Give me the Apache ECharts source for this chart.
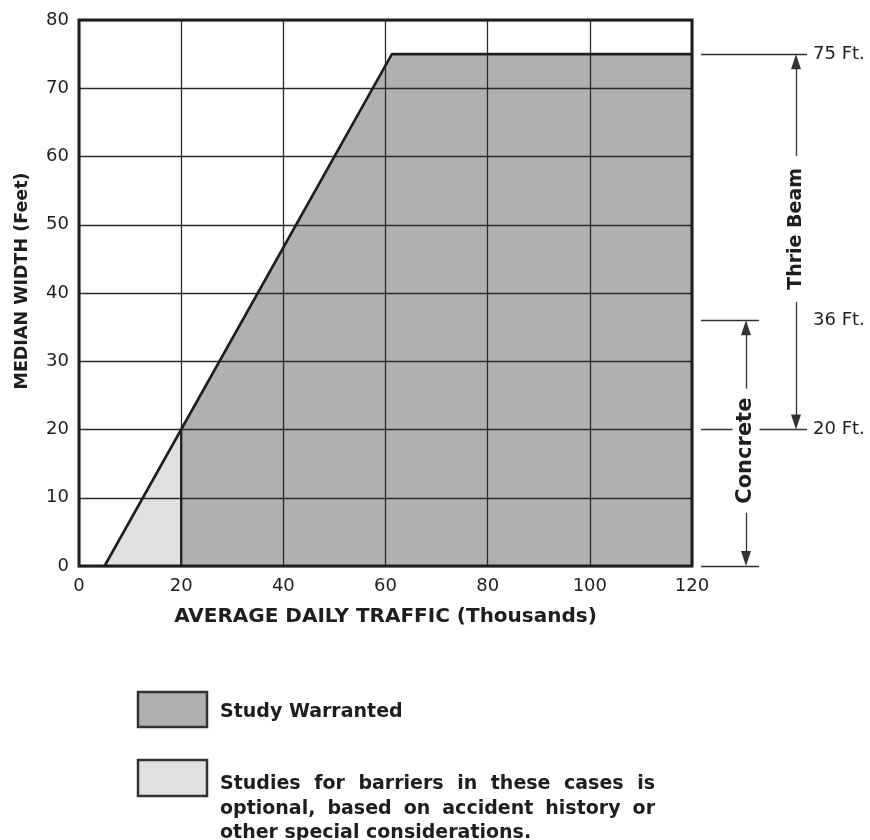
<!DOCTYPE html>
<html><head><meta charset="utf-8">
<script src="https://cdn.jsdelivr.net/npm/echarts@6/dist/echarts.min.js"></script>
<style>html,body{margin:0;padding:0;background:#fff}#c{width:870px;height:840px}</style>
</head><body><div id="c"></div>
<script>
// ---------- data ----------
const boundaryX = [5, 20, 61.25, 120];      // warrant boundary (ADT, thousands)
const boundaryY = [0, 20, 75, 75];          // median width (feet)
const studyEdgeX = [20, 20];
const studyEdgeY = [0, 20];
const xTicks = [0, 20, 40, 60, 80, 100, 120];
const yTicks = [0, 10, 20, 30, 40, 50, 60, 70, 80];
const thresholdValues = [75, 36, 20, 0];
const thresholdLabels = ['75 Ft.', '36 Ft.', '20 Ft.', ''];
const barrierNames = ['Thrie Beam', 'Concrete'];
const barrierLow = [20, 0];
const barrierHigh = [75, 36];
const xAxisTitle = 'AVERAGE DAILY TRAFFIC (Thousands)';
const yAxisTitle = 'MEDIAN WIDTH (Feet)';
const legendNames = ['Study Warranted', 'Studies for barriers in these cases is optional, based on accident history or other special considerations.'];
const legendLines2 = ['Studies for barriers in these cases is', 'optional, based on accident history or', 'other special considerations.'];

// ---------- style / layout ----------
const FONT = 'DejaVu Sans';
const DARK = '#b0b0b0';
const LIGHT = '#e0e0e0';
const INK = '#1e1e1e';
const G = {left: 79, top: 20, width: 613, height: 546};
const ANN = {lineStart: 9, longEnd: 115, shortEnd: 67, thrieX: 104, concreteX: 54, labelX: 121};
const thresholdEnds = [ANN.longEnd, ANN.shortEnd, ANN.longEnd, ANN.shortEnd];
const barrierX = [ANN.thrieX, ANN.concreteX];
const barrierTextCenter = [49.4, 16.9];   // label placement along arrow (axis units)
const barrierGapHalfPx = [73, 62];        // half-length of the gap left for the label
const barrierFontSize = [19, 21];
const ARROW = [10, 15];
const ppu = G.height / (yTicks[yTicks.length - 1] - yTicks[0]);
const arrowInset = (ARROW[1] / 2) / ppu;

const chart = echarts.init(document.getElementById('c'), null, {renderer: 'canvas'});

const pts = (xs, ys) => xs.map((x, i) => [x, ys[i]]);
const boundary = pts(boundaryX, boundaryY);

// legend (boxes + justified text)
const mctx = document.createElement('canvas').getContext('2d');
const legendFont = 'bold 19px "' + FONT + '"';
mctx.font = legendFont;
const justifyWidth = 435;
const legendGraphics = [];
const LX = 220;
function addLine(line, y, justify) {
  if (!justify) {
    legendGraphics.push({type: 'text', x: LX, y: y, style: {text: line, font: legendFont, fill: INK}});
    return;
  }
  const words = line.split(' ');
  const wsum = words.reduce((s, w) => s + mctx.measureText(w).width, 0);
  const gap = (justifyWidth - wsum) / (words.length - 1);
  let x = LX;
  words.forEach(w => {
    legendGraphics.push({type: 'text', x: x, y: y, style: {text: w, font: legendFont, fill: INK}});
    x += mctx.measureText(w).width + gap;
  });
}
legendGraphics.push({type: 'rect', shape: {x: 138, y: 692, width: 69, height: 35}, style: {fill: DARK, stroke: '#333', lineWidth: 2.5}});
addLine(legendNames[0], 703, false);
legendGraphics.push({type: 'rect', shape: {x: 138, y: 760, width: 69, height: 36}, style: {fill: LIGHT, stroke: '#333', lineWidth: 2.5}});
addLine(legendLines2[0], 775, true);
addLine(legendLines2[1], 799.5, true);
addLine(legendLines2[2], 824, false);

// arrow segments (split around the label)
const arrowSegs = [];
barrierNames.forEach((n, i) => {
  const gapLo = barrierTextCenter[i] - barrierGapHalfPx[i] / ppu;
  const gapHi = barrierTextCenter[i] + barrierGapHalfPx[i] / ppu;
  arrowSegs.push([{coord: [barrierX[i], barrierLow[i] + arrowInset], symbol: 'triangle'},
                  {coord: [barrierX[i], gapLo], symbol: 'none'}]);
  arrowSegs.push([{coord: [barrierX[i], gapHi], symbol: 'none'},
                  {coord: [barrierX[i], barrierHigh[i] - arrowInset], symbol: 'triangle'}]);
});

const option = {
  animation: false,
  backgroundColor: '#fff',
  grid: [
    {left: G.left, top: G.top, width: G.width, height: G.height, show: true, borderColor: INK, borderWidth: 3, backgroundColor: 'transparent', z: 6},
    {left: G.left + G.width, top: G.top, width: 870 - G.left - G.width, height: G.height, show: false}
  ],
  xAxis: [
    {type: 'value', gridIndex: 0, min: xTicks[0], max: xTicks[xTicks.length - 1], interval: xTicks[1] - xTicks[0], z: 3,
     name: xAxisTitle, nameLocation: 'middle', nameGap: 41,
     nameTextStyle: {fontFamily: FONT, fontWeight: 'bold', fontSize: 20, color: INK},
     axisLine: {show: false}, axisTick: {show: false},
     axisLabel: {fontFamily: FONT, fontSize: 18, color: INK, margin: 11},
     splitLine: {show: true, lineStyle: {color: '#2a2a2a', width: 1.3}}},
    {type: 'value', gridIndex: 1, min: 0, max: 870 - G.left - G.width, show: false}
  ],
  yAxis: [
    {type: 'value', gridIndex: 0, min: yTicks[0], max: yTicks[yTicks.length - 1], interval: yTicks[1] - yTicks[0], z: 3,
     name: yAxisTitle, nameLocation: 'middle', nameGap: 48,
     nameTextStyle: {fontFamily: FONT, fontWeight: 'bold', fontSize: 17.5, color: INK, padding: [0, 0, 0, 24]},
     axisLine: {show: false}, axisTick: {show: false},
     axisLabel: {fontFamily: FONT, fontSize: 18, color: INK, margin: 10},
     splitLine: {show: true, lineStyle: {color: '#2a2a2a', width: 1.3}}},
    {type: 'value', gridIndex: 1, min: yTicks[0], max: yTicks[yTicks.length - 1], show: false}
  ],
  series: [
    {name: legendNames[1], type: 'line', xAxisIndex: 0, yAxisIndex: 0, z: 1, silent: true,
     data: boundary.slice(0, 2), symbol: 'none', lineStyle: {width: 0}, areaStyle: {color: LIGHT, opacity: 1}},
    {name: legendNames[0], type: 'line', xAxisIndex: 0, yAxisIndex: 0, z: 1, silent: true,
     data: boundary.slice(1), symbol: 'none', lineStyle: {width: 0}, areaStyle: {color: DARK, opacity: 1}},
    {type: 'line', xAxisIndex: 0, yAxisIndex: 0, z: 5, silent: true,
     data: boundary, symbol: 'none', lineStyle: {color: INK, width: 2.6}},
    {type: 'line', xAxisIndex: 0, yAxisIndex: 0, z: 5, silent: true,
     data: pts(studyEdgeX, studyEdgeY), symbol: 'none', lineStyle: {color: INK, width: 2.2}},
    // threshold lines + labels
    {type: 'scatter', xAxisIndex: 1, yAxisIndex: 1, silent: true, z: 3,
     symbolSize: 0, itemStyle: {color: INK, opacity: 1},
     data: thresholdValues.map((v, i) => ({value: [ANN.labelX, v], label: {formatter: thresholdLabels[i]}})),
     label: {show: true, position: 'right', distance: 0, fontFamily: FONT, fontSize: 18, color: INK},
     markLine: {silent: true, symbol: 'none', animation: false, z: 3,
       lineStyle: {color: '#333', width: 1.3, type: 'solid'}, label: {show: false},
       data: thresholdValues.map((v, i) => [{coord: [ANN.lineStart, v]}, {coord: [thresholdEnds[i], v]}])}},
    // barrier arrows + rotated names
    {type: 'scatter', xAxisIndex: 1, yAxisIndex: 1, silent: true, z: 9,
     symbolSize: 0, itemStyle: {color: INK, opacity: 1},
     data: barrierNames.map((n, i) => ({name: n, value: [barrierX[i], barrierTextCenter[i]],
       label: {fontSize: barrierFontSize[i]}})),
     label: {show: true, position: 'inside', rotate: 90, formatter: '{b}', fontFamily: FONT, fontWeight: 'bold', fontSize: 19,
       color: INK, backgroundColor: '#fff', padding: [3, 2]},
     markLine: {silent: true, symbolSize: ARROW, animation: false, z: 4,
       lineStyle: {color: '#333', width: 1.3, type: 'solid'}, label: {show: false},
       data: arrowSegs}}
  ],
  graphic: legendGraphics
};
chart.setOption(option);
</script></body></html>
